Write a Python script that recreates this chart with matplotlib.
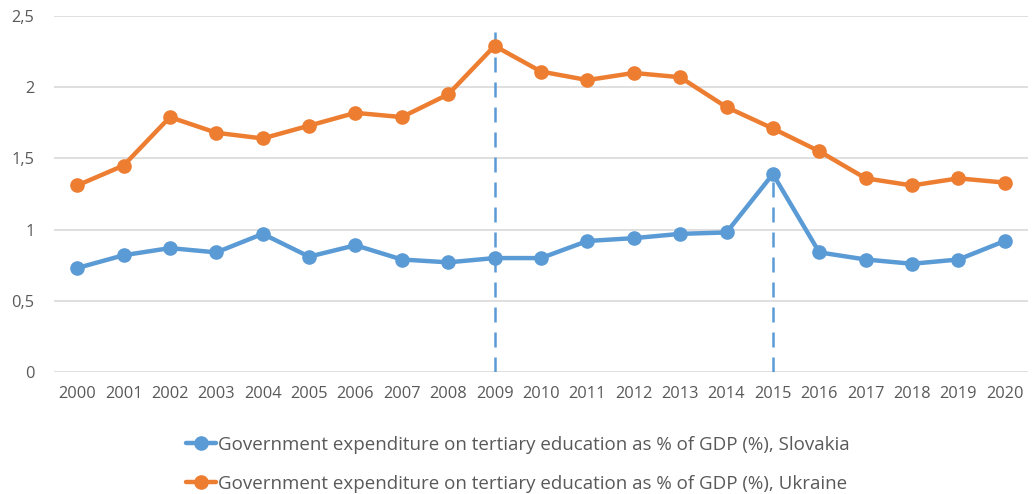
import matplotlib.pyplot as plt
from matplotlib.ticker import FixedLocator

years = [str(y) for y in range(2000, 2021)]
slovakia = [0.73, 0.82, 0.87, 0.84, 0.97, 0.81, 0.89, 0.79, 0.77, 0.80, 0.80,
            0.92, 0.94, 0.97, 0.98, 1.39, 0.84, 0.79, 0.76, 0.79, 0.92]
ukraine = [1.31, 1.45, 1.79, 1.68, 1.64, 1.73, 1.82, 1.79, 1.95, 2.29, 2.11,
           2.05, 2.10, 2.07, 1.86, 1.71, 1.55, 1.36, 1.31, 1.36, 1.33]
y_ticks = [0, 0.5, 1, 1.5, 2, 2.5]
y_labels = ['0', '0,5', '1', '1,5', '2', '2,5']
# vertical markers: (year index, top value)
markers = [(9, 2.39), (15, 1.39)]

blue = '#5B9BD5'
orange = '#ED7D31'
text_col = '#595959'

plt.rcParams['font.family'] = ['Open Sans', 'DejaVu Sans']

fig = plt.figure(figsize=(10.35, 4.94), dpi=100)
ax = fig.add_axes([54 / 1035, 122 / 494, 974 / 1035, 356 / 494])

x = list(range(len(years)))
ax.plot(x, slovakia, color=blue, lw=3.2, marker='o', ms=9.5, solid_capstyle='round',
        label='Government expenditure on tertiary education as % of GDP (%), Slovakia', zorder=3)
ax.plot(x, ukraine, color=orange, lw=3.2, marker='o', ms=9.5, solid_capstyle='round',
        label='Government expenditure on tertiary education as % of GDP (%), Ukraine', zorder=3)

for xi, top in markers:
    ax.plot([xi, xi], [0, top], color=blue, lw=1.8, ls=(0, (6, 4)), zorder=2)

ax.set_xlim(-0.5, len(years) - 0.5)
ax.set_ylim(0, 2.5)
ax.yaxis.set_major_locator(FixedLocator(y_ticks))
ax.set_yticklabels(y_labels)
ax.set_xticks(x)
ax.set_xticklabels(years)
ax.grid(axis='y', color='#D9D9D9', lw=1.2)
ax.set_axisbelow(True)
for s in ax.spines.values():
    s.set_visible(False)
ax.tick_params(length=0, labelsize=11.8, labelcolor=text_col)
ax.tick_params(axis='y', pad=14)
ax.tick_params(axis='x', pad=10)

fig.legend(loc='center', bbox_to_anchor=(0.5, 0.06), ncol=1, frameon=False,
           fontsize=13.5, labelcolor=text_col, handlelength=1.6, handletextpad=0.1,
           labelspacing=1.1)

fig.savefig('out.png', dpi=100)
